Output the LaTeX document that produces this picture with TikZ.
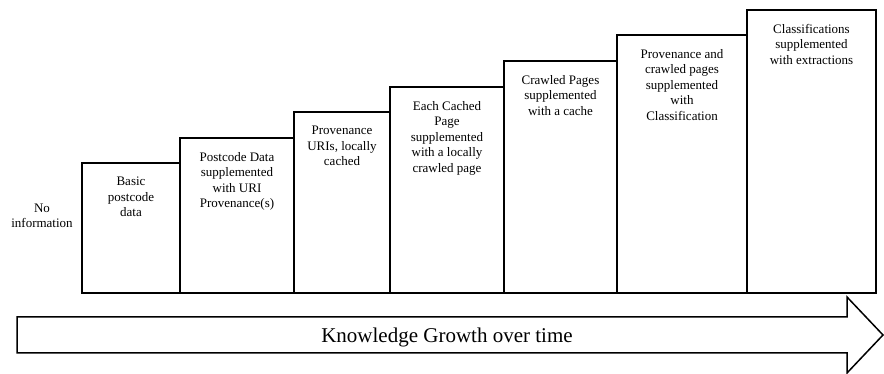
\documentclass[tikz,border=0pt]{standalone}
\usepackage{fontspec}
\setmainfont{Liberation Serif}
\usetikzlibrary{positioning}

\tikzset{
  bar/.style={line width=1.5pt, line join=miter},
  lbl/.style={anchor=north, align=center, inner sep=0pt,
    font=\fontsize{13}{15.5}\selectfont},
  growth/.style={line width=1.5pt, line join=miter}
}

\begin{document}
\begin{tikzpicture}[x=1pt, y=1pt]
\useasboundingbox (0,0) rectangle (884,374);

% the stairs, one bar per stage
\foreach \xa/\xb/\yt/\txt [count=\i] in {
  82/180/211/{Basic\\postcode\\data},
  180/294/236/{Postcode Data\\supplemented\\with URI\\Provenance(s)},
  294/390/262/{Provenance\\URIs, locally\\cached},
  390/504/287/{Each Cached\\Page\\supplemented\\with a locally\\crawled page},
  504/617/313/{Crawled Pages\\supplemented\\with a cache},
  617/747/339/{Provenance and\\crawled pages\\supplemented\\with\\Classification},
  747/876/364/{Classifications\\supplemented\\with extractions}}
{
  \draw[bar] (\xa,81) rectangle (\xb,\yt);
  \node[lbl] (lvl\i) at ({(\xa+\xb)/2},\yt-14) {\txt};
}

\node[lbl, anchor=center] (lvl0) at (42,158) {No\\information};

% big arrow along the bottom
\draw[growth] (17,21) -- (17,57) -- (847,57) -- (847,77) -- (883,39)
  -- (847,1) -- (847,21) -- cycle;
\node[font=\fontsize{21}{25}\selectfont] (time) at (447,37) {Knowledge Growth over time};
\end{tikzpicture}
\end{document}
